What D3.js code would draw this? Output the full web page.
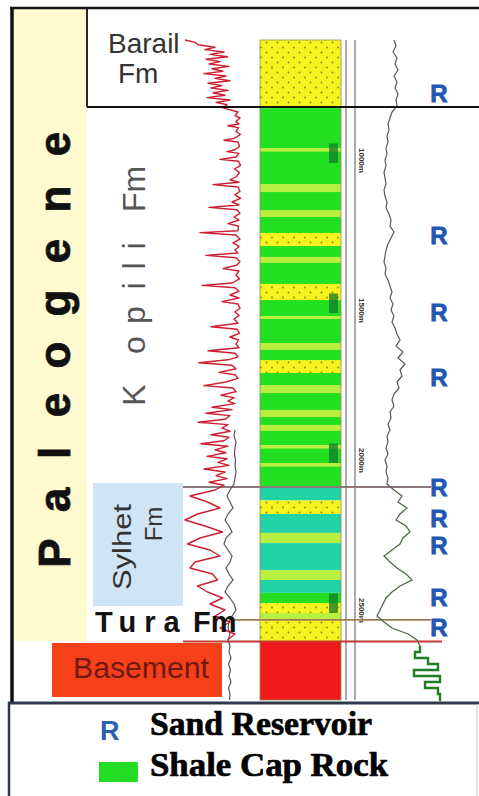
<!DOCTYPE html>
<html>
<head>
<meta charset="utf-8">
<script src="https://cdn.jsdelivr.net/npm/d3@7"></script>
<style>
  html, body { margin: 0; padding: 0; background: #fff; }
  svg { display: block; }
</style>
</head>
<body>
<svg id="chart" width="479" height="796"></svg>
<script>
// ---------- well data (depth in m) ----------
const lithoTypes = ["sand", "shale", "silt", "lime", "basement"];
const lithoColors = ["url(#sandDots)", "#22df22", "#b9ef40", "#22d3a6", "#f01a1a"];

// [top, base, type]
const lithology = [
  [600, 827, "sand"],
  [827, 2090, "shale"],
  [960, 972, "silt"], [1080, 1107, "silt"], [1167, 1190, "silt"],
  [1243, 1287, "sand"], [1323, 1343, "silt"], [1413, 1467, "sand"],
  [1520, 1530, "silt"], [1610, 1633, "silt"], [1667, 1710, "sand"],
  [1750, 1777, "silt"], [1833, 1857, "silt"], [1883, 1903, "silt"],
  [1950, 1962, "silt"], [2010, 2022, "silt"],
  [2090, 2135, "lime"], [2135, 2180, "sand"], [2180, 2243, "lime"],
  [2243, 2277, "silt"], [2277, 2367, "lime"], [2367, 2400, "silt"],
  [2400, 2443, "lime"], [2443, 2477, "shale"], [2477, 2510, "sand"],
  [2510, 2533, "silt"], [2533, 2605, "sand"],
  [2605, 2800, "basement"]
];

const formationTops = [2090, 2533, 2605];
const formationLineColors = ["#8c7878", "#a47a52", "#c43a30"];
const reservoirDepths = [777, 1250, 1507, 1723, 2090, 2193, 2283, 2457, 2557];
const depthTicks = [1000, 1500, 2000, 2500];

// gamma ray (API)
const grDepth = [
  600,608,616,624,632,640,648,656,664,672,680,688,696,704,712,720,728,736,744,752,760,768,776,784,792,800,808,816,826,
  840,852,860,872,880,886,892,905,915,928,934,940,955,966,972,978,990,998,1004,1018,1030,1042,1055,1066,1074,1082,1090,
  1104,1116,1128,1140,1150,1158,1166,1178,1190,1200,1212,1220,1236,1242,1250,1264,1276,1288,1300,1310,1318,1326,1338,
  1350,1362,1370,1384,1396,1410,1418,1426,1438,1450,1460,1472,1480,1494,1506,1518,1530,1544,1556,1564,1578,1590,1600,
  1614,1626,1636,1644,1656,1666,1676,1684,1696,1708,1716,1728,1740,1752,1760,1772,1784,1792,1804,1812,1824,1832,1844,
  1852,1864,1874,1882,1894,1904,1916,1924,1936,1946,1954,1966,1976,1988,1996,2008,2018,2030,2040,2052,2062,2074,2084,
  2100,2120,2140,2160,2180,2200,2220,2240,2260,2280,2300,2320,2340,2360,2380,2400,2420,2440,2460,2480,2500,2520,
  2540,2560,2580,2600];
const grValue = [
  10,30,36,70,50,88,60,95,52,80,58,98,64,86,48,92,70,100,56,84,62,96,66,90,54,100,72,94,86,
  116,110,120,112,118,96,117,112,121,108,88,116,119,110,94,118,112,80,117,121,109,119,113,100,118,66,116,
  120,110,121,104,118,58,114,120,108,118,96,117,116,40,112,120,106,118,110,116,52,112,120,
  114,86,118,112,119,104,44,110,118,100,118,84,116,120,110,118,108,116,62,114,119,100,117,
  112,118,56,110,116,96,38,104,112,78,110,116,92,48,106,112,82,108,96,110,64,104,52,
  100,90,36,96,84,100,62,98,88,42,96,70,92,54,94,76,98,48,90,72,94,58,88,
  70,20,55,80,35,10,50,85,40,15,60,80,30,20,65,75,35,55,85,60,90,70,
  100,80,110,95];

// spontaneous potential (same API-like scale)
const spDepth = [1900,1920,1940,1960,1980,2000,2020,2040,2060,2080,2100,2120,2140,2160,2180,2200,
  2220,2240,2260,2280,2300,2320,2340,2360,2380,2400,2420,2440,2460,2480,2500,2520,2540,2560,2580,
  2600,2620,2640,2660,2680,2700,2720,2740,2760,2780,2800];
const spValue = [110,108,112,110,109,111,110,112,110,108,100,94,100,106,96,90,
  98,104,92,88,96,104,100,92,98,106,96,90,100,108,112,104,98,96,100,
  96,100,98,102,97,101,98,102,97,100,99];

// resistivity (ohm.m)
const resDepth = [600,620,640,660,680,700,720,740,760,780,800,820,
  840,860,880,900,920,940,960,980,1000,1020,1040,1060,1080,1100,1120,1140,1160,1180,1200,1220,1240,1260,1280,1300,
  1320,1340,1360,1380,1400,1420,1440,1460,1480,1500,1520,1540,1560,1580,1600,1620,1640,1660,1680,1700,
  1720,1740,1760,1780,1800,1820,1840,1860,1880,1900,1920,1940,1960,1980,2000,2020,2040,2060,2080,
  2100,2120,2140,2160,2180,2200,2220,2240,2260,2280,2300,2320,2340,2360,2380,2400,2420,2440,2460,2480,2500,2520,2540,2560,2580,2600,
  2620,2640,2660,2680,2700,2720,2740,2760,2780,2800];
const resValue = [24,26,23,27,25,28,24,27,25,28,26,27,
  22,20,18,19,17,18,16,17,15,16,14,15,16,14,15,17,16,19,21,20,24,21,18,16,
  15,14,16,15,18,20,22,20,23,21,24,22,25,27,30,26,33,28,35,30,
  32,27,29,24,22,24,20,21,18,20,17,18,16,18,15,17,16,18,17,
  24,32,28,37,30,26,36,40,33,30,22,14,20,27,36,42,30,22,16,13,10,7,14,22,38,47,
  50,45,58,68,44,70,55,68,70,69];

// ---------- scales ----------
const svg = d3.select("#chart");
const y = d3.scaleLinear().domain([600, 2800]).range([40, 700]);
const xGR = d3.scaleLinear().domain([0, 140]).range([180, 250]);
const xRes = d3.scaleLinear().domain([0, 80]).range([370, 450]);
const lithoFill = d3.scaleOrdinal().domain(lithoTypes).range(lithoColors);

// ---------- patterns ----------
const defs = svg.append("defs");
const pat = defs.append("pattern").attr("id", "sandDots")
  .attr("patternUnits", "userSpaceOnUse").attr("width", 11).attr("height", 10);
pat.append("rect").attr("width", 11).attr("height", 10).attr("fill", "#f6f31e");
pat.append("circle").attr("cx", 2.5).attr("cy", 2.5).attr("r", 0.9).attr("fill", "#8a8418");
pat.append("circle").attr("cx", 8).attr("cy", 7.5).attr("r", 0.9).attr("fill", "#8a8418");

// ---------- background panels ----------
svg.append("rect").attr("x", 14).attr("y", 9).attr("width", 73).attr("height", 632).attr("fill", "#fffad0");
svg.append("rect").attr("x", 93).attr("y", 483).attr("width", 90).attr("height", 123).attr("fill", "#cfe5f6");
svg.append("rect").attr("x", 52).attr("y", 643).attr("width", 170).attr("height", 54).attr("fill", "#f6401a");

// ---------- lithology column ----------
const col = svg.append("g");
col.selectAll("rect.layer").data(lithology).join("rect")
  .attr("class", "layer")
  .attr("x", 260).attr("width", 81)
  .attr("y", d => y(d[0]))
  .attr("height", d => y(d[1]) - y(d[0]))
  .attr("fill", d => lithoFill(d[2]));
col.append("rect").attr("x", 260).attr("y", y(600)).attr("width", 81).attr("height", y(2800) - y(600))
  .attr("fill", "none").attr("stroke", "#8c9050").attr("stroke-width", 0.8);

// core / sample markers
col.selectAll("rect.mark").data(depthTicks).join("rect")
  .attr("class", "mark")
  .attr("x", 329).attr("width", 9)
  .attr("y", d => y(d - 55))
  .attr("height", d => y(d + 10) - y(d - 55))
  .attr("fill", "#127a2c").attr("opacity", 0.75);

// depth track lines
[346, 355].forEach(x => {
  svg.append("line").attr("x1", x).attr("x2", x).attr("y1", y(600)).attr("y2", y(2800))
    .attr("stroke", "#7c7c84").attr("stroke-width", 1.3);
});
svg.selectAll("text.depth").data(depthTicks).join("text")
  .attr("class", "depth")
  .attr("transform", d => `translate(359,${y(d) - 12}) rotate(90)`)
  .attr("font-family", "Liberation Sans, Arial, sans-serif")
  .attr("font-size", 8).attr("font-weight", "bold").attr("fill", "#333")
  .text(d => d + "m");

// formation boundaries
svg.selectAll("line.fm").data(formationTops).join("line")
  .attr("class", "fm")
  .attr("x1", (d, i) => i === 1 ? 233 : 183).attr("x2", (d, i) => i === 2 ? 442 : 431)
  .attr("y1", d => y(d)).attr("y2", d => y(d))
  .attr("stroke", (d, i) => formationLineColors[i]).attr("stroke-width", 1.8);

// ---------- log curves ----------
const grLine = d3.line().x(d => xGR(d[1])).y(d => y(d[0]));
svg.append("path").datum(d3.zip(spDepth, spValue)).attr("d", grLine)
  .attr("fill", "none").attr("stroke", "#55555f").attr("stroke-width", 1.2);

svg.append("path").datum(d3.zip(grDepth, grValue)).attr("d", grLine)
  .attr("fill", "none").attr("stroke", "#cc1e30").attr("stroke-width", 1.4)
  .attr("stroke-linejoin", "round");

const resPts = d3.zip(resDepth, resValue);
const resLine = d3.line().x(d => xRes(d[1])).y(d => y(d[0]));
const resStep = d3.line().x(d => xRes(d[1])).y(d => y(d[0])).curve(d3.curveStepBefore);
svg.append("path").datum(resPts.filter(d => d[0] <= 2100)).attr("d", resLine)
  .attr("fill", "none").attr("stroke", "#58585c").attr("stroke-width", 1.2);
svg.append("path").datum(resPts.filter(d => d[0] >= 2100 && d[0] <= 2620)).attr("d", resLine)
  .attr("fill", "none").attr("stroke", "#4c6a44").attr("stroke-width", 1.3);
svg.append("path").datum(resPts.filter(d => d[0] >= 2620)).attr("d", resStep)
  .attr("fill", "none").attr("stroke", "#1f7d24").attr("stroke-width", 2.4);

// reservoir flags
svg.selectAll("text.res").data(reservoirDepths).join("text")
  .attr("class", "res")
  .attr("x", 439).attr("y", d => y(d) + 9)
  .attr("text-anchor", "middle")
  .attr("font-family", "Liberation Sans, Arial, sans-serif")
  .attr("font-size", 24).attr("font-weight", "bold")
  .attr("fill", "#1f58b6").attr("stroke", "#1f58b6").attr("stroke-width", 0.8)
  .text("R");

// ---------- frame ----------
const ink = "#111";
svg.append("line").attr("x1", 10).attr("x2", 479).attr("y1", 8).attr("y2", 8).attr("stroke", ink).attr("stroke-width", 2.5);
svg.append("line").attr("x1", 12).attr("x2", 12).attr("y1", 7).attr("y2", 703).attr("stroke", ink).attr("stroke-width", 3.5);
svg.append("line").attr("x1", 87).attr("x2", 87).attr("y1", 8).attr("y2", 107).attr("stroke", ink).attr("stroke-width", 1.8);
svg.append("line").attr("x1", 87).attr("x2", 479).attr("y1", 107).attr("y2", 107).attr("stroke", ink).attr("stroke-width", 1.8);

// ---------- stratigraphic labels ----------
const sans = "Liberation Sans, Arial, sans-serif";
const eraLetters = ["P", "a", "l", "e", "o", "g", "e", "n", "e"];
const eraCenters = [553, 500, 453, 405, 355, 303, 251, 199, 144];
svg.selectAll("text.era").data(eraLetters).join("text")
  .attr("class", "era")
  .attr("transform", (d, i) => `translate(70,${eraCenters[i]}) rotate(-90)`)
  .attr("text-anchor", "middle")
  .attr("font-family", sans).attr("font-size", 44).attr("font-weight", "bold")
  .attr("fill", "#111").attr("stroke", "#111").attr("stroke-width", 0.8)
  .text(d => d);

const kopLetters = ["K", "o", "p", "i", "l", "i", "Fm"];
const kopCenters = [395, 345, 315, 286, 266, 246, 189];
svg.selectAll("text.kop").data(kopLetters).join("text")
  .attr("class", "kop")
  .attr("transform", (d, i) => `translate(145,${kopCenters[i]}) rotate(-90)`)
  .attr("text-anchor", "middle")
  .attr("font-family", sans).attr("font-size", 32).attr("fill", "#555")
  .text(d => d);

svg.append("text").attr("transform", "translate(131,547) rotate(-90)")
  .attr("text-anchor", "middle").attr("font-family", sans).attr("font-size", 26).attr("fill", "#333")
  .attr("textLength", 86).attr("lengthAdjust", "spacingAndGlyphs").text("Sylhet");
svg.append("text").attr("transform", "translate(162,524) rotate(-90)")
  .attr("text-anchor", "middle").attr("font-family", sans).attr("font-size", 24).attr("fill", "#333")
  .text("Fm");

const tura = svg.append("text").attr("x", 95).attr("y", 632)
  .attr("font-family", sans).attr("font-size", 29).attr("font-weight", "bold").attr("fill", "#111");
tura.append("tspan").attr("letter-spacing", 8).text("Tura");
tura.append("tspan").attr("x", 193).text("Fm");

svg.append("text").attr("x", 141).attr("y", 678).attr("text-anchor", "middle")
  .attr("font-family", sans).attr("font-size", 29).attr("fill", "#6e1a12")
  .attr("textLength", 136).attr("lengthAdjust", "spacingAndGlyphs").text("Basement");

svg.append("text").attr("x", 108).attr("y", 53).attr("font-family", sans).attr("font-size", 28)
  .attr("fill", "#333").text("Barail");
svg.append("text").attr("x", 118).attr("y", 83).attr("font-family", sans).attr("font-size", 28)
  .attr("fill", "#333").text("Fm");

// ---------- legend ----------
const lg = svg.append("g");
lg.append("line").attr("x1", 8).attr("x2", 479).attr("y1", 703).attr("y2", 703).attr("stroke", "#2e3a4c").attr("stroke-width", 3);
lg.append("line").attr("x1", 9).attr("x2", 9).attr("y1", 702).attr("y2", 796).attr("stroke", "#2e3a4c").attr("stroke-width", 2.5);
lg.append("line").attr("x1", 477).attr("x2", 477).attr("y1", 704).attr("y2", 796).attr("stroke", "#c8ccd4").attr("stroke-width", 1);
lg.append("text").attr("x", 100).attr("y", 740).attr("font-family", sans).attr("font-size", 27)
  .attr("font-weight", "bold").attr("fill", "#2d5fb0").text("R");
lg.append("rect").attr("x", 99).attr("y", 762).attr("width", 39).attr("height", 20).attr("fill", "#22dd22");
const serif = "Liberation Serif, Times New Roman, serif";
lg.append("text").attr("x", 150).attr("y", 735).attr("font-family", serif).attr("font-size", 34)
  .attr("font-weight", "bold").attr("fill", "#000").attr("stroke", "#000").attr("stroke-width", 0.7)
  .attr("textLength", 222).attr("lengthAdjust", "spacingAndGlyphs").text("Sand Reservoir");
lg.append("text").attr("x", 150).attr("y", 776).attr("font-family", serif).attr("font-size", 34)
  .attr("font-weight", "bold").attr("fill", "#000").attr("stroke", "#000").attr("stroke-width", 0.7)
  .attr("textLength", 238).attr("lengthAdjust", "spacingAndGlyphs").text("Shale Cap Rock");
</script>
</body>
</html>
